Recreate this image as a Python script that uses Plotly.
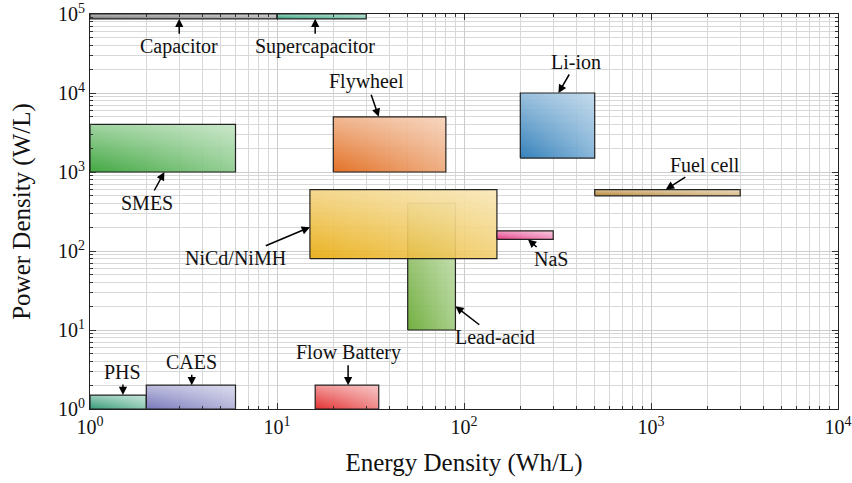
import numpy as np
import plotly.graph_objects as go

# ---- data ----
names = ["Capacitor", "Supercapacitor", "SMES", "Flywheel", "Li-ion", "Fuel cell",
         "Lead-acid", "NiCd/NiMH", "NaS", "PHS", "CAES", "Flow Battery"]
e_min = [1, 10, 1, 20, 200, 500, 50, 15, 150, 1, 2, 16]          # Wh/L
e_max = [10, 30, 6, 80, 500, 3000, 90, 150, 300, 2, 6, 35]
p_min = [87000, 87000, 1000, 1000, 1500, 500, 10, 80, 140, 1, 1, 1]  # W/L
p_max = [100000, 100000, 4000, 5000, 10000, 600, 400, 600, 180, 1.5, 2, 2]

# arrow tip positions for labels (data units)
tip_e = [3.0, 16, 2.5, 35, 320, 1200, 90, 15, 220, 1.5, 3.5, 24]
tip_p = [87000, 87000, 1000, 5000, 10000, 600, 20, 200, 140, 1.5, 2, 2]

x_tickvals = [1, 10, 100, 1000, 10000]
x_ticktext = ["10<sup>0</sup>", "10<sup>1</sup>", "10<sup>2</sup>", "10<sup>3</sup>", "10<sup>4</sup>"]
y_tickvals = [1, 10, 100, 1000, 10000, 100000]
y_ticktext = ["10<sup>0</sup>", "10<sup>1</sup>", "10<sup>2</sup>", "10<sup>3</sup>", "10<sup>4</sup>", "10<sup>5</sup>"]

# ---- styles ----
dark = ["#6e6e6e", "#1f9a6e", "#2e9e2e", "#e0620f", "#1f74b4", "#b07a22",
        "#62a52a", "#e8aa0a", "#e0287a", "#1f9068", "#6a6ab4", "#e01a1a"]
light = ["#d0d0d0", "#b9e6d2", "#d4ecd4", "#f8dcc6", "#c8dff0", "#f2e2c4",
         "#d2eac2", "#f9ebc0", "#fbd2e6", "#d2efe4", "#e8e8f4", "#f9d0d0"]
label_offsets = [(0, 28), (0, 28), (-17, 31), (-12, -35), (18, -31), (39, -25),
                 (40, 31), (-74, 31), (23, 20), (0, -23), (0, -23), (0, -33)]

FONT = "Liberation Serif"


def hex2rgb(h):
    h = h.lstrip("#")
    return tuple(int(h[i:i + 2], 16) for i in (0, 2, 4))


def mix(c1, c2, t):
    a, b = hex2rgb(c1), hex2rgb(c2)
    return tuple(round(a[i] + (b[i] - a[i]) * t) for i in range(3))


def rgba(c, a):
    return f"rgba({c[0]},{c[1]},{c[2]},{a})"


fig = go.Figure()

for i in range(len(names)):
    xs = [e_min[i], e_max[i], e_max[i], e_min[i], e_min[i]]
    ys = [p_min[i], p_min[i], p_max[i], p_max[i], p_min[i]]
    d = hex2rgb(dark[i])
    m = mix(dark[i], light[i], 0.55)
    alpha = 0.9
    # base: horizontal gradient
    fig.add_trace(go.Scatter(
        x=xs, y=ys, mode="lines", fill="toself", line=dict(width=0),
        fillgradient=dict(type="horizontal",
                          colorscale=[[0, rgba(d, alpha)], [1, rgba(m, alpha)]]),
        hoverinfo="skip", showlegend=False))
    # overlay: vertical whitening + border
    fig.add_trace(go.Scatter(
        x=xs, y=ys, mode="lines", fill="toself",
        line=dict(color="rgba(25,25,25,0.95)", width=1.2),
        fillgradient=dict(type="vertical",
                          colorscale=[[0, "rgba(255,255,255,0)"], [1, "rgba(255,255,255,0.5)"]]),
        hoverinfo="skip", showlegend=False))

for i in range(len(names)):
    fig.add_annotation(
        x=np.log10(tip_e[i]), y=np.log10(tip_p[i]), xref="x", yref="y",
        text=names[i], showarrow=True, arrowhead=2, arrowsize=1.1, arrowwidth=1.5,
        arrowcolor="black", ax=label_offsets[i][0], ay=label_offsets[i][1],
        font=dict(family=FONT, size=20, color="#111"))

axis_common = dict(
    type="log", showline=True, linecolor="#222", linewidth=1.2, mirror="allticks",
    ticks="inside", ticklen=6, tickcolor="#333", tickmode="array", automargin=False,
    showgrid=True, gridcolor="#cdcdcd", gridwidth=1, zeroline=False,
    tickfont=dict(family=FONT, size=20, color="#111"),
)

fig.update_xaxes(
    **axis_common, range=[0, 4], tickvals=x_tickvals, ticktext=x_ticktext,
    minor=dict(tickmode="array",
               tickvals=[k * 10 ** p for p in range(4) for k in range(2, 10)],
               ticks="inside", ticklen=3, tickcolor="#333",
               showgrid=True, gridcolor="#d8d8d8", gridwidth=1),
    title=dict(text="Energy Density (Wh/L)", font=dict(family=FONT, size=25, color="#111"),
               standoff=16),
)
fig.update_yaxes(
    **axis_common, range=[0, 5], tickvals=y_tickvals, ticktext=y_ticktext,
    minor=dict(tickmode="array",
               tickvals=[k * 10 ** p for p in range(5) for k in range(2, 10)],
               ticks="inside", ticklen=3, tickcolor="#333",
               showgrid=True, gridcolor="#d8d8d8", gridwidth=1),
    title=dict(text="Power Density (W/L)", font=dict(family=FONT, size=25, color="#111"),
               standoff=20),
)

fig.update_layout(
    width=852, height=483,
    margin=dict(l=90, r=14, t=14, b=74, autoexpand=False),
    paper_bgcolor="white", plot_bgcolor="white",
    showlegend=False,
)

fig.write_html("out.html")
